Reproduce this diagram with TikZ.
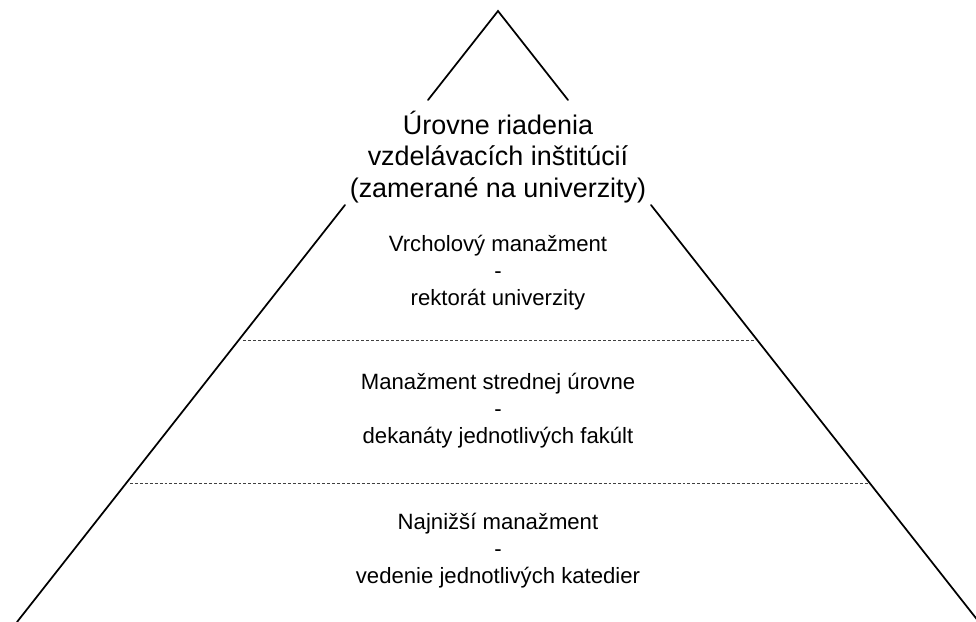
\documentclass[tikz,border=0pt]{standalone}
\usepackage{fontspec}
\setmainfont{Liberation Sans}
\begin{document}
\begin{tikzpicture}[x=0.75pt,y=-0.75pt,
  edge/.style={line width=1.3pt,line cap=round},
  divider/.style={line width=0.7pt,dash pattern=on 2.2pt off 1.5pt,black!75},
  heading/.style={align=center,inner sep=0pt,font=\fontsize{20.2}{23.6}\selectfont},
  level/.style={align=center,inner sep=0pt,font=\fontsize{16.6}{20.3}\selectfont}]
\useasboundingbox (0,0) rectangle (976,622);
\clip (0,0) rectangle (976,622);
% pyramid outline, broken around the heading
\coordinate (apex) at (498,11);
\coordinate (lu) at (428,100);
\coordinate (ru) at (568,100);
\coordinate (ll) at (345,205);
\coordinate (rl) at (651,205);
\coordinate (lb) at (17,622);
\coordinate (rb) at (979,622);
\draw[edge] (lu) -- (apex) -- (ru);
\draw[edge] (ll) -- (lb);
\draw[edge] (rl) -- (rb);
% level dividers
\coordinate (d1a) at (243,340);
\coordinate (d1b) at (755,340);
\coordinate (d2a) at (130,483);
\coordinate (d2b) at (869,483);
\draw[divider] (d1a) -- (d1b);
\draw[divider] (d2a) -- (d2b);
% labels
\node[heading] (title) at (498,157) {Úrovne riadenia\\vzdelávacích inštitúcií\\(zamerané na univerzity)};
\node[level] (top) at (498,273) {Vrcholový manažment\\-\\rektorát univerzity};
\node[level] (mid) at (498,411) {Manažment strednej úrovne\\-\\dekanáty jednotlivých fakúlt};
\node[level] (low) at (498,551) {Najnižší manažment\\-\\vedenie jednotlivých katedier};
\end{tikzpicture}
\end{document}
